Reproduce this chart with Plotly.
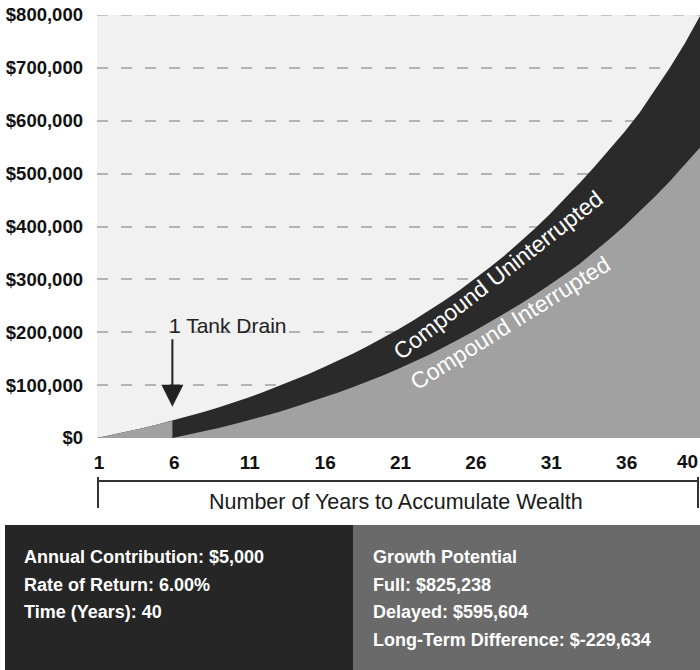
import plotly.graph_objects as go

# ---------------- data ----------------
years = list(range(0, 41))          # position index; label "1" sits at index 0
uninterrupted = [0, 5800, 11900, 18400, 25300, 32600, 40300, 48500, 57200, 66400,
                 76100, 86500, 97500, 109100, 120800, 133200, 146300, 160000, 174400,
                 189700, 205700, 222600, 240300, 259000, 278700, 299500, 321400,
                 344400, 369000, 395000, 422400, 451200, 481700, 512800, 545500,
                 579400, 615600, 657000, 700100, 746500, 798000]
drain_index = 5
# interrupted series restarts at the drain (index 5 .. 40)
interrupted = [0, 5800, 12000, 18600, 25500, 32900, 40700, 48900, 57700, 66700,
               76100, 86000, 96400, 107400, 118900, 131000, 143800, 157200, 171400,
               186200, 201900, 218300, 234800, 252000, 270000, 288800, 308600,
               329200, 352100, 376200, 401500, 428100, 456100, 485600, 516600, 549300]

x_tick_vals = [0, 5, 10, 15, 20, 25, 30, 35]
x_tick_text = ["1", "6", "11", "16", "21", "26", "31", "36"]
last_tick_val = 40
last_tick_text = "40"
y_tick_vals = [0, 100000, 200000, 300000, 400000, 500000, 600000, 700000, 800000]
y_tick_text = ["$0", "$100,000", "$200,000", "$300,000", "$400,000",
               "$500,000", "$600,000", "$700,000", "$800,000"]
y_max = 800000

x_title = "Number of Years to Accumulate Wealth"
drain_label = "1 Tank Drain"
label_unint = "Compound Uninterrupted"
label_int = "Compound Interrupted"
left_lines = ["Annual Contribution: $5,000", "Rate of Return: 6.00%", "Time (Years): 40"]
right_lines = ["Growth Potential", "Full: $825,238", "Delayed: $595,604",
               "Long-Term Difference: $-229,634"]

# ---------------- styling ----------------
DARK = "#2a2a2a"
GRAY = "#a1a1a1"
BG = "#f1f1f1"
BOX_DARK = "#262626"
BOX_GRAY = "#6a6a6a"
GRID = "#b3b3b3"
FONT = "Liberation Sans"

W, H = 700, 670
L, R, T, B = 97, 0, 15, 232
plot_w = W - L - R
plot_h = H - T - B


def px(X):
    return (X - L) / plot_w


def py(Y):
    return (H - B - Y) / plot_h


fig = go.Figure()
fig.add_trace(go.Scatter(x=years, y=uninterrupted, mode="lines", fill="tozeroy",
                         fillcolor=DARK, line=dict(width=0, color=DARK),
                         hoverinfo="skip"))
x_int = years[:drain_index + 1] + years[drain_index:]
y_int = uninterrupted[:drain_index + 1] + interrupted
fig.add_trace(go.Scatter(x=x_int, y=y_int, mode="lines", fill="tozeroy",
                         fillcolor=GRAY, line=dict(width=0, color=GRAY),
                         hoverinfo="skip"))

shapes = [
    # top gridline (at the range edge)
    dict(type="line", xref="paper", yref="y", x0=0, x1=1, y0=y_max, y1=y_max,
         line=dict(color=GRID, width=1.5, dash="11px,13px"), layer="below"),
    # bottom boxes
    dict(type="rect", xref="paper", yref="paper", x0=px(5), x1=px(353),
         y0=py(525), y1=py(672), fillcolor=BOX_DARK, line=dict(width=0), layer="above"),
    dict(type="rect", xref="paper", yref="paper", x0=px(353), x1=px(702),
         y0=py(525), y1=py(672), fillcolor=BOX_GRAY, line=dict(width=0), layer="above"),
    # bracket
    dict(type="line", xref="paper", yref="paper", x0=px(97), x1=px(698),
         y0=py(481), y1=py(481), line=dict(color="#333333", width=2)),
    dict(type="line", xref="paper", yref="paper", x0=px(98), x1=px(98),
         y0=py(477), y1=py(508), line=dict(color="#333333", width=2)),
    dict(type="line", xref="paper", yref="paper", x0=px(698), x1=px(698),
         y0=py(477), y1=py(508), line=dict(color="#333333", width=2)),
]

annotations = [
    dict(x=last_tick_val, xref="x", y=py(461), yref="paper", text=last_tick_text,
         showarrow=False, xanchor="right", yanchor="middle",
         font=dict(family=FONT, size=19, color="#111111", weight="bold")),
    dict(x=px(396), xref="paper", y=py(502), yref="paper", text=x_title,
         showarrow=False, xanchor="center", yanchor="middle",
         font=dict(family=FONT, size=21.5, color="#1a1a1a")),
    # drain arrow
    dict(x=drain_index, xref="x", y=59000, yref="y", text="", showarrow=True,
         ax=0, ay=-69, arrowhead=2, arrowwidth=2, arrowsize=2.2,
         arrowcolor="#222222"),
    dict(x=drain_index, xref="x", y=py(325), yref="paper", text=drain_label,
         showarrow=False, xanchor="left", yanchor="middle", xshift=-5,
         font=dict(family=FONT, size=21, color="#222222")),
    dict(x=26.6, xref="x", y=308000, yref="y", text=label_unint, showarrow=False,
         textangle=-38, font=dict(family=FONT, size=23, color="white")),
    dict(x=27.4, xref="x", y=218000, yref="y", text=label_int, showarrow=False,
         textangle=-32, font=dict(family=FONT, size=23, color="white")),
]
for i, t in enumerate(left_lines):
    annotations.append(dict(x=px(22), xref="paper", y=py(557 + 27.5 * i), yref="paper",
                            text=t, showarrow=False, xanchor="left", yanchor="middle",
                            font=dict(family=FONT, size=18, color="white", weight="bold")))
for i, t in enumerate(right_lines):
    annotations.append(dict(x=px(371), xref="paper", y=py(557 + 27.5 * i), yref="paper",
                            text=t, showarrow=False, xanchor="left", yanchor="middle",
                            font=dict(family=FONT, size=18, color="white", weight="bold")))

fig.update_layout(
    width=W, height=H,
    margin=dict(l=L, r=R, t=T, b=B, pad=0),
    paper_bgcolor="white", plot_bgcolor=BG,
    showlegend=False,
    shapes=shapes, annotations=annotations,
    xaxis=dict(range=[0, 40], tickvals=x_tick_vals, ticktext=x_tick_text,
               showgrid=False, zeroline=False, showline=False, ticks="",
               ticklabelstandoff=11, ticklabelshift=2,
               tickfont=dict(family=FONT, size=19, color="#111111", weight="bold"),
               fixedrange=True),
    yaxis=dict(range=[0, y_max], tickvals=y_tick_vals, ticktext=y_tick_text,
               showgrid=True, gridcolor=GRID, gridwidth=1.5, griddash="11px,13px",
               zeroline=False, showline=False, ticks="", ticklabelstandoff=13,
               tickfont=dict(family=FONT, size=18.5, color="#111111", weight="bold"),
               fixedrange=True),
)

fig.write_html("out.html")
